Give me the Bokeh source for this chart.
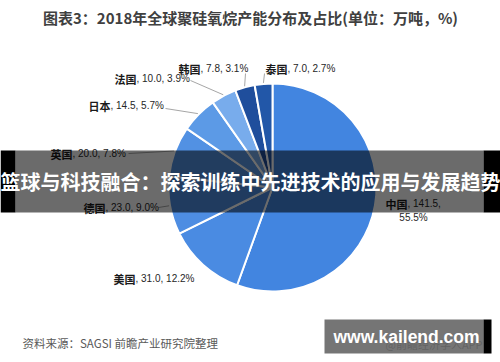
import math
from bokeh.plotting import figure
from bokeh.models import Range1d, ColumnDataSource
from bokeh.core.properties import value
from bokeh.embed import file_html
from bokeh.resources import INLINE

# ---- data ----
countries = ["中国", "美国", "德国", "英国", "日本", "法国", "韩国", "泰国"]
capacity = [141.5, 31.0, 23.0, 20.0, 14.5, 10.0, 7.8, 7.0]
shares = [55.5, 12.2, 9.0, 7.8, 5.7, 3.9, 3.1, 2.7]
colors = ["#4285E0", "#4A8BE2", "#4E8DE2", "#5291E3", "#5C9AE6", "#78ACEC", "#1F4E9C", "#2257A8"]

title_text = "图表3：2018年全球聚硅氧烷产能分布及占比(单位：万吨，%)"
source_text = "资料来源：SAGSI 前瞻产业研究院整理"
banner_text = "篮球与科技融合：探索训练中先进技术的应用与发展趋势"
site_text = "www.kailend.com"

# ---- layout ----
W, H = 500, 362
def Y(yp):
    return H - yp

cx, cy, R = 272, Y(187), 104
# label anchor (join point between bold name and the numbers), in pixels
label_pos = {
    "中国": (407, 203),
    "美国": (135, 278),
    "德国": (105, 207),
    "英国": (72, 153),
    "日本": (110, 105),
    "法国": (136, 78),
    "韩国": (200, 68),
    "泰国": (287, 68),
}
# leader-line start points near the label ends (pixels); None = no line
leader_start = {
    "中国": None,
    "美国": None,
    "德国": (158, 207),
    "英国": (128, 153),
    "日本": (165, 108),
    "法国": (190, 80),
    "韩国": (245, 73),
    "泰国": (264, 73),
}

p = figure(width=W, height=H, x_range=Range1d(0, W), y_range=Range1d(0, H),
           min_border=0, toolbar_location=None, output_backend="svg",
           x_axis_type=None, y_axis_type=None)
p.grid.visible = False
p.outline_line_color = None
p.background_fill_color = "white"
p.border_fill_color = "white"

# ---- pie ----
total = sum(capacity)
starts, ends, mids = [], [], []
cum = 0.0
for v in capacity:
    a0 = math.pi / 2 - 2 * math.pi * cum / total
    cum += v
    a1 = math.pi / 2 - 2 * math.pi * cum / total
    starts.append(a1)
    ends.append(a0)
    mids.append((a0 + a1) / 2)

src = ColumnDataSource(dict(start=starts, end=ends, color=colors))
p.wedge(x=cx, y=cy, radius=R, start_angle="start", end_angle="end",
        fill_color="color", line_color="white", line_width=2, source=src)

# ---- leader lines ----
x0s, y0s, x1s, y1s = [], [], [], []
for name, m in zip(countries, mids):
    s = leader_start[name]
    if s is None:
        continue
    x0s.append(s[0]); y0s.append(Y(s[1]))
    x1s.append(cx + (R + 1) * math.cos(m)); y1s.append(cy + (R + 1) * math.sin(m))
p.segment(x0=x0s, y0=y0s, x1=x1s, y1=y1s, line_color="#A6A6A6", line_width=1)

# ---- labels ----
nx, ny, nt, rx, ry, rt = [], [], [], [], [], []
for name, cap, sh in zip(countries, capacity, shares):
    lx, ly = label_pos[name]
    nx.append(lx); ny.append(Y(ly)); nt.append(name)
    if name == "中国":
        rx.append(lx); ry.append(Y(ly)); rt.append(f", {cap:.1f},")
    else:
        rx.append(lx); ry.append(Y(ly)); rt.append(f", {cap:.1f}, {sh:.1f}%")
p.text(x=nx, y=ny, text=nt, text_font=value("Noto Sans CJK SC"), text_font_style="bold",
       text_font_size="11px", text_align="right", text_baseline="middle", text_color="#1a1a1a")
p.text(x=rx, y=ry, text=rt, text_font=value("Liberation Sans"),
       text_font_size="10px", text_align="left", text_baseline="middle", text_color="#262626")
# second line for China's share
ci = countries.index("中国")
p.text(x=[413], y=[Y(217)], text=[f"{shares[ci]:.1f}%"], text_font=value("Liberation Sans"),
       text_font_size="10px", text_align="center", text_baseline="middle", text_color="#262626")

# ---- title ----
p.text(x=[250], y=[Y(17)], text=[title_text], text_font=value("Noto Sans CJK SC"),
       text_font_style="bold", text_font_size="15px", text_align="center",
       text_baseline="middle", text_color="#404040")

# ---- source ----
p.text(x=[22], y=[Y(342)], text=[source_text], text_font=value("Noto Sans CJK SC"),
       text_font_size="11.5px", text_align="left", text_baseline="middle", text_color="#595959")

# ---- banner overlay ----
p.quad(left=[15], right=[483], bottom=[Y(212)], top=[Y(150)], fill_color="black",
       fill_alpha=0.58, line_color=None)
p.quad(left=[0, 483], right=[15, 500], bottom=[Y(212)] * 2, top=[Y(150)] * 2,
       fill_color="black", line_color=None)
p.text(x=[250], y=[Y(181)], text=[banner_text], text_font=value("Noto Sans CJK SC"),
       text_font_style="bold", text_font_size="20px", text_align="center",
       text_baseline="middle", text_color="white")

# ---- bottom-right site box ----
p.text(x=[482], y=[Y(343)], text=["@前瞻经济学人APP"], text_font=value("Noto Sans CJK SC"),
       text_font_size="11px", text_align="right", text_baseline="middle", text_color="#444444")
p.quad(left=[324], right=[483], bottom=[Y(353)], top=[Y(319)], fill_color="#666666",
       fill_alpha=0.9, line_color=None)
p.quad(left=[483], right=[491], bottom=[Y(353)], top=[Y(319)], fill_color="black",
       line_color=None)
p.text(x=[406], y=[Y(336)], text=[site_text], text_font=value("Liberation Sans"),
       text_font_style="bold", text_font_size="17.5px", text_align="center",
       text_baseline="middle", text_color="white")

open("out.html", "w").write(file_html(p, INLINE))
